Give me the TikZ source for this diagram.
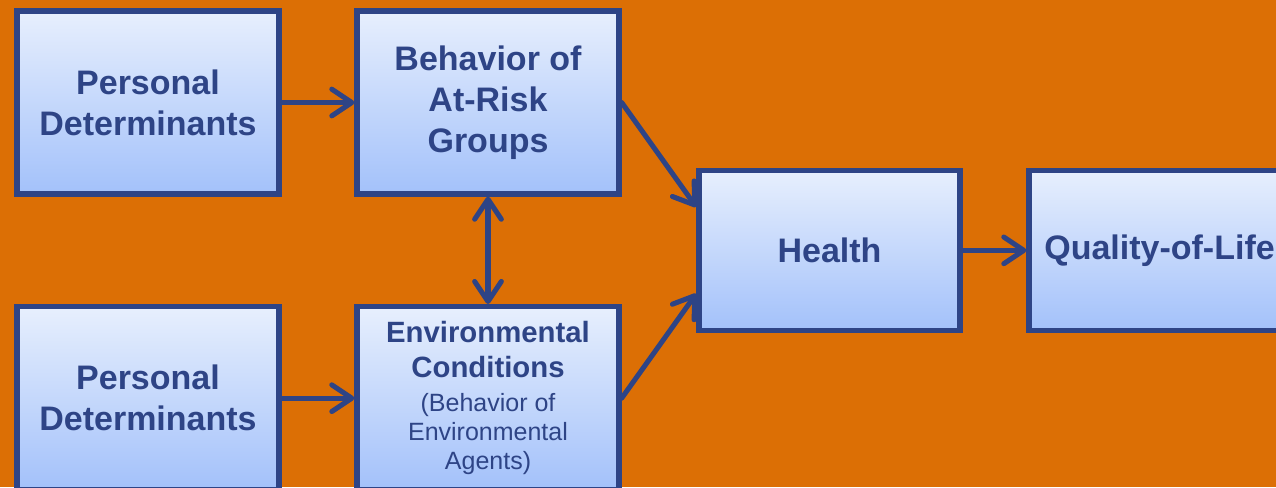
\documentclass[tikz,border=0pt]{standalone}
\usepackage{fontspec}
\setmainfont{Liberation Sans}
\usetikzlibrary{arrows.meta, positioning, calc}

\definecolor{bgorange}{RGB}{220,111,5}
\definecolor{edgeblue}{RGB}{46,68,134}
\definecolor{filltop}{RGB}{231,239,253}
\definecolor{fillbot}{RGB}{163,193,250}

\newcommand{\envbf}{\fontsize{22}{26}\selectfont\bfseries}

\begin{document}
\begin{tikzpicture}[x=0.75pt,y=-0.75pt,>={Straight Barb[length=15pt,width=20pt,round]},
        box/.style={draw=edgeblue,line width=4pt,top color=filltop,bottom color=fillbot,
          minimum width=196.5pt,minimum height=137.25pt,align=center,text=edgeblue,
          font=\fontsize{25.5}{30.75}\selectfont\bfseries},
        smallbox/.style={box,minimum width=195.75pt,minimum height=120pt},
        link/.style={->,draw=edgeblue,line width=3.8pt,line cap=round}]
      % page and background
      \useasboundingbox (0,0) rectangle (1276,487);
      \clip (0,0) rectangle (1276,487);
      \fill[bgorange] (0,0) rectangle (1276,487);
      % boxes
      \node[box] (pers1) at (148,102.5) {Personal\\Determinants};
      \node[box,right=54.5pt of pers1] (behav) {Behavior of\\At-Risk\\Groups};
      \node[box,below=80.5pt of behav,font=\fontsize{18.75}{21.75}\selectfont] (envcond)
        {\envbf Environmental\\[4pt]\envbf Conditions\\[4pt](Behavior of\\Environmental\\Agents)};
      \node[box,left=54.5pt of envcond] (pers2) {Personal\\Determinants};
      \coordinate (mid) at ($(behav.east)!0.5!(envcond.east)$);
      \node[smallbox,right=56pt of mid] (health) {Health};
      \node[smallbox,right=47.75pt of health] (qol) {Quality-of-Life};
      % connectors
      \draw[link] (pers1) -- (behav);
      \draw[link] (pers2) -- (envcond);
      \draw[link,<->] (behav) -- (envcond);
      \draw[link] (behav.east) -- (health.162);
      \draw[link] (envcond.east) -- (health.198);
      \draw[link] (health) -- (qol);
    \end{tikzpicture}
\end{document}
